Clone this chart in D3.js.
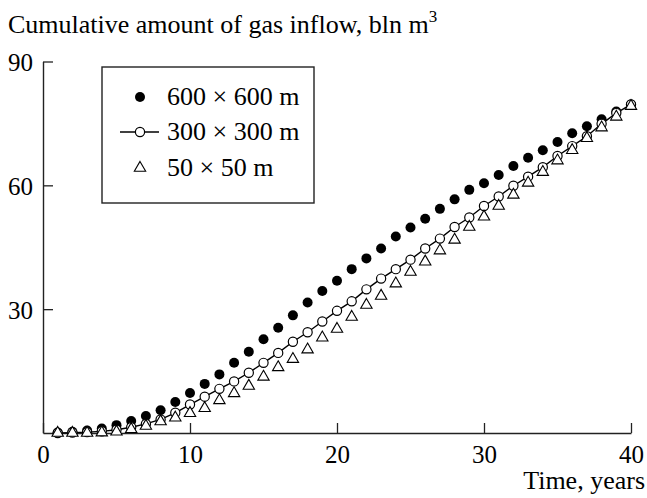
<!DOCTYPE html>
<html>
<head>
<meta charset="utf-8">
<script src="https://cdn.jsdelivr.net/npm/d3@7"></script>
<style>
    body { margin: 0; background: #fff; }
    text { font-family: "Liberation Serif", "Times New Roman", serif; fill: #000; }
</style>
</head>
<body>
<svg id="chart" width="647" height="498"></svg>
<script>
// time, years
const years = [1, 2, 3, 4, 5, 6, 7, 8, 9, 10, 11, 12, 13, 14, 15, 16, 17, 18, 19, 20,
    21, 22, 23, 24, 25, 26, 27, 28, 29, 30, 31, 32, 33, 34, 35, 36, 37, 38, 39, 40];

// cumulative gas inflow, bln m3
const grid600 = [0.1, 0.3, 0.6, 1.1, 1.9, 2.9, 4.1, 5.5, 7.5, 9.7, 11.9, 14.2, 17.0, 19.7, 22.7, 25.5, 28.5, 31.6, 34.4, 36.9,
    39.7, 42.3, 44.7, 47.6, 49.8, 51.9, 54.3, 56.6, 58.9, 60.5, 62.5, 64.7, 66.7, 68.5, 70.5, 72.6, 74.3, 76.0, 77.9, 79.6];
const grid300 = [0.0, 0.1, 0.2, 0.4, 0.8, 1.4, 2.2, 3.3, 4.9, 6.9, 8.8, 10.7, 12.5, 14.6, 17.0, 19.4, 22.1, 24.4, 27.0, 29.6,
    31.9, 34.8, 37.4, 39.7, 42.0, 44.7, 47.1, 49.9, 52.2, 55.0, 57.3, 59.9, 62.1, 64.4, 67.1, 69.5, 71.9, 74.9, 77.5, 79.6];
const grid50 = [0.0, 0.0, 0.0, 0.1, 0.3, 0.9, 1.7, 2.8, 3.7, 4.8, 6.0, 7.9, 9.6, 11.4, 13.6, 15.9, 17.9, 20.2, 23.1, 25.2,
    28.1, 31.0, 33.2, 36.2, 39.0, 41.5, 44.2, 46.8, 49.9, 52.4, 55.0, 57.7, 60.6, 63.2, 66.0, 68.5, 71.4, 74.0, 76.6, 79.2];

const legendNames = ["600 \u00d7 600 m", "300 \u00d7 300 m", "50 \u00d7 50 m"];
const xTicks = [0, 10, 20, 30, 40];
const yTicks = [30, 60, 90];

const svg = d3.select("#chart");

const xScale = d3.scaleLinear()
    .domain([0, 40])
    .range([43, 631]);

const yScale = d3.scaleLinear()
    .domain([0, 90])
    .range([433, 61.5]);

const fontSize = 25,
    markR = 4.6,
    axisColor = "#222";

// axes, ticks pointing inside
let xAxis = svg.append("g")
    .attr("class", "x-axis")
    .attr("transform", "translate(0," + yScale(0) + ")")
    .call(d3.axisBottom(xScale)
        .tickValues(xTicks)
        .tickSize(-10)
        .tickSizeOuter(0)
        .tickPadding(12)
        .tickFormat(d3.format("d")));

let yAxis = svg.append("g")
    .attr("class", "y-axis")
    .attr("transform", "translate(" + xScale(0) + ",0)")
    .call(d3.axisLeft(yScale)
        .tickValues(yTicks)
        .tickSize(-10)
        .tickSizeOuter(0)
        .tickPadding(10)
        .tickFormat(d3.format("d")));

[xAxis, yAxis].forEach(ax => {
    ax.selectAll(".domain").attr("stroke", axisColor).attr("stroke-width", 1.4);
    ax.selectAll(".tick line").attr("stroke", axisColor).attr("stroke-width", 1.3);
    ax.selectAll(".tick text")
        .attr("font-family", null)
        .style("font-size", fontSize + "px")
        .attr("fill", "#000");
});
yAxis.selectAll(".tick text").attr("dy", "0.36em");

// axis titles
let title = svg.append("text")
    .attr("x", 8)
    .attr("y", 33)
    .style("font-size", "26px")
    .text("Cumulative amount of gas inflow, bln m");
title.append("tspan")
    .attr("dy", -11)
    .style("font-size", "17px")
    .text("3");

svg.append("text")
    .attr("x", 645)
    .attr("y", 489)
    .attr("text-anchor", "end")
    .style("font-size", "26px")
    .text("Time, years");

// series
const tri = d3.symbol().type(d3.symbolTriangle).size(56);

svg.append("g")
    .attr("class", "s600")
    .selectAll("circle")
    .data(years)
    .join("circle")
    .attr("cx", d => xScale(d))
    .attr("cy", (d, i) => yScale(grid600[i]))
    .attr("r", 5)
    .attr("fill", "#000");

let line = d3.line()
    .x(d => xScale(d))
    .y((d, i) => yScale(grid300[i]));

let s300 = svg.append("g").attr("class", "s300");
s300.append("path")
    .datum(years)
    .attr("d", line)
    .attr("fill", "none")
    .attr("stroke", "#000")
    .attr("stroke-width", 1.4);
s300.selectAll("circle")
    .data(years)
    .join("circle")
    .attr("cx", d => xScale(d))
    .attr("cy", (d, i) => yScale(grid300[i]))
    .attr("r", markR)
    .attr("fill", "#fff")
    .attr("stroke", "#000")
    .attr("stroke-width", 1.2);

svg.append("g")
    .attr("class", "s50")
    .selectAll("path")
    .data(years)
    .join("path")
    .attr("d", tri)
    .attr("transform", (d, i) => "translate(" + xScale(d) + "," + yScale(grid50[i]) + ")")
    .attr("fill", "#fff")
    .attr("stroke", "#000")
    .attr("stroke-width", 1.1);

// legend
let legend = svg.append("g").attr("class", "legend");
legend.append("rect")
    .attr("x", 102)
    .attr("y", 67)
    .attr("width", 212)
    .attr("height", 136)
    .attr("fill", "#fff")
    .attr("stroke", axisColor)
    .attr("stroke-width", 1.4);

const rowY = [97, 132, 168];
const markX = 140;

legend.append("circle")
    .attr("cx", markX).attr("cy", rowY[0]).attr("r", 5).attr("fill", "#000");

legend.append("line")
    .attr("x1", 120).attr("x2", 159)
    .attr("y1", rowY[1]).attr("y2", rowY[1])
    .attr("stroke", "#000").attr("stroke-width", 1.4);
legend.append("circle")
    .attr("cx", markX).attr("cy", rowY[1]).attr("r", markR)
    .attr("fill", "#fff").attr("stroke", "#000").attr("stroke-width", 1.2);

legend.append("path")
    .attr("d", tri)
    .attr("transform", "translate(" + markX + "," + rowY[2] + ")")
    .attr("fill", "#fff").attr("stroke", "#000").attr("stroke-width", 1.1);

legendNames.forEach((name, i) => {
    legend.append("text")
        .attr("x", 167)
        .attr("y", rowY[i])
        .attr("dy", "0.32em")
        .style("font-size", "26px")
        .text(name);
});
</script>
</body>
</html>
